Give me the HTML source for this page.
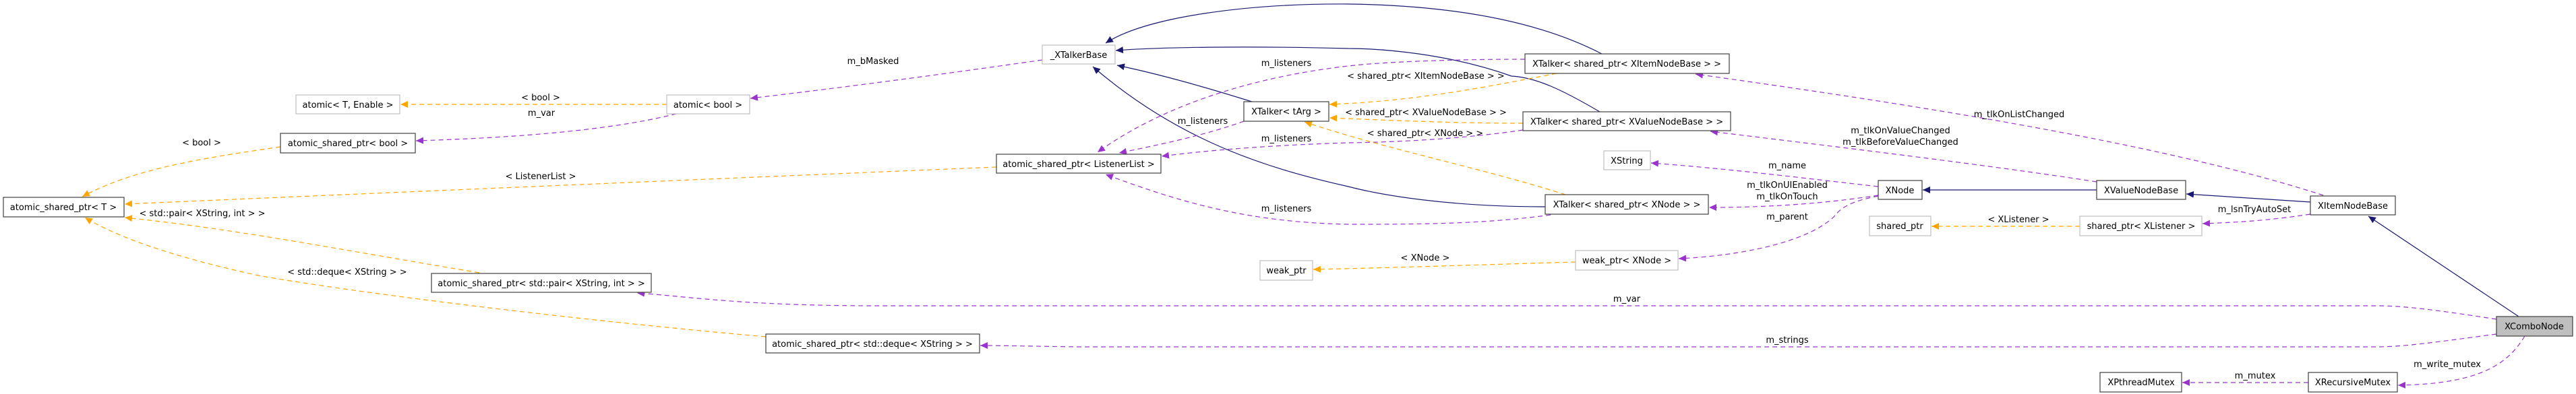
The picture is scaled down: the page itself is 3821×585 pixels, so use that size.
<!DOCTYPE html>
<html><head><meta charset="utf-8"><style>
html,body{margin:0;padding:0;background:#fff;}
svg{display:block;}
text{font-family:"DejaVu Sans","Liberation Sans",sans-serif;font-size:13px;fill:#000;text-anchor:middle;}
.b{fill:#fff;stroke:#404040;stroke-width:1.2;}
.g{fill:#fff;stroke:#bfbfbf;stroke-width:1.2;}
.n{fill:none;stroke:#191970;stroke-width:1.2;}
.p{fill:none;stroke:#9a32cd;stroke-width:1.2;stroke-dasharray:7,5;}
.o{fill:none;stroke:#ffa500;stroke-width:1.2;stroke-dasharray:7,5;}
</style></head><body>
<svg width="3821" height="585" viewBox="0 0 3821 585" xmlns="http://www.w3.org/2000/svg">
<defs>
<marker id="an" markerUnits="userSpaceOnUse" markerWidth="12" markerHeight="10" refX="11" refY="5" orient="auto"><path d="M0,0 L11,5 L0,10 z" fill="#191970"/></marker>
<marker id="ap" markerUnits="userSpaceOnUse" markerWidth="12" markerHeight="10" refX="11" refY="5" orient="auto"><path d="M0,0 L11,5 L0,10 z" fill="#9a32cd"/></marker>
<marker id="ao" markerUnits="userSpaceOnUse" markerWidth="12" markerHeight="10" refX="11" refY="5" orient="auto"><path d="M0,0 L11,5 L0,10 z" fill="#ffa500"/></marker>
</defs>

<!-- edges -->
<path class="o" marker-end="url(#ao)" d="M989,155 L594,155"/>
<path class="p" marker-end="url(#ap)" d="M1003,169 C900,195 750,205 617,209"/>
<path class="o" marker-end="url(#ao)" d="M416,218 C300,235 200,250 122,292"/>
<path class="p" marker-end="url(#ap)" d="M1546,89 C1400,110 1250,130 1113,146"/>
<path class="o" marker-end="url(#ao)" d="M1478,248 C1000,268 600,285 185,303"/>
<path class="o" marker-end="url(#ao)" d="M711,405 C500,370 350,340 185,323"/>
<path class="o" marker-end="url(#ao)" d="M1136,500 C800,470 500,430 383,409 C250,380 170,350 126,323"/>
<path class="n" marker-end="url(#an)" d="M2376,80 C2280,30 2150,8 2000,6 C1850,5 1700,25 1640,64"/>
<path class="n" marker-end="url(#an)" d="M2373,166 C2320,135 2280,115 2242,113 C2150,80 2050,72 2000,72 C1850,68 1720,70 1655,75"/>
<path class="n" marker-end="url(#an)" d="M1857,151 C1790,130 1720,110 1657,97"/>
<path class="n" marker-end="url(#an)" d="M2292,307 C2150,307 2050,290 2000,277 C1880,250 1750,210 1621,99"/>
<path class="p" marker-end="url(#ap)" d="M2262,88 C2150,88 2050,92 2000,98 C1850,115 1720,160 1628,226"/>
<path class="p" marker-end="url(#ap)" d="M1845,180 C1790,200 1720,215 1660,227"/>
<path class="p" marker-end="url(#ap)" d="M2259,193 C2180,205 2080,211 2000,212 C1900,215 1800,222 1723,232"/>
<path class="p" marker-end="url(#ap)" d="M2300,319 C2200,333 2100,333 2000,333 C1850,330 1750,300 1640,259"/>
<path class="o" marker-end="url(#ao)" d="M2309,109 C2200,130 2100,150 1972,155"/>
<path class="o" marker-end="url(#ao)" d="M2259,183 C2150,183 2050,178 1972,175"/>
<path class="o" marker-end="url(#ao)" d="M2322,289 C2200,250 2050,220 1935,181"/>
<path class="p" marker-end="url(#ap)" d="M2786,277 C2680,265 2560,250 2449,242"/>
<path class="p" marker-end="url(#ap)" d="M2786,290 C2720,300 2640,308 2535,308"/>
<path class="p" marker-end="url(#ap)" d="M2786,291 C2740,300 2730,310 2720,322 C2680,360 2580,380 2490,384"/>
<path class="o" marker-end="url(#ao)" d="M2337,389 C2200,393 2050,398 1948,400"/>
<path class="n" marker-end="url(#an)" d="M3110,282 L2852,282"/>
<path class="p" marker-end="url(#ap)" d="M3110,270 C2950,245 2700,215 2537,195"/>
<path class="p" marker-end="url(#ap)" d="M3446,290 C3200,210 2800,150 2515,110"/>
<path class="n" marker-end="url(#an)" d="M3427,300 L3243,288"/>
<path class="p" marker-end="url(#ap)" d="M3427,318 C3360,328 3320,330 3267,332"/>
<path class="o" marker-end="url(#ao)" d="M3085,336 L2865,336"/>
<path class="n" marker-end="url(#an)" d="M3736,470 L3513,321"/>
<path class="p" marker-end="url(#ap)" d="M3703,474 C3600,458 3560,454 3525,454 L1300,454 C1100,454 1020,440 945,435"/>
<path class="p" marker-end="url(#ap)" d="M3703,496 C3600,510 3560,515 3525,515 L1600,515 C1520,514 1490,513 1454,513"/>
<path class="p" marker-end="url(#ap)" d="M3745,499 C3720,540 3680,570 3557,572"/>
<path class="p" marker-end="url(#ap)" d="M3424,568 L3237,568"/>

<!-- nodes -->
<rect class="g" x="439" y="141" width="154" height="28"/><text x="516" y="160">atomic&lt; T, Enable &gt;</text>
<rect class="b" x="416" y="198" width="200" height="29"/><text x="516" y="217">atomic_shared_ptr&lt; bool &gt;</text>
<rect class="b" x="5" y="293" width="179" height="29"/><text x="94" y="312">atomic_shared_ptr&lt; T &gt;</text>
<rect class="b" x="640" y="406" width="326" height="28"/><text x="803" y="425">atomic_shared_ptr&lt; std::pair&lt; XString, int &gt; &gt;</text>
<rect class="g" x="989" y="141" width="123" height="28"/><text x="1050" y="160">atomic&lt; bool &gt;</text>
<rect class="g" x="1546" y="67" width="108" height="28"/><text x="1600" y="86">_XTalkerBase</text>
<rect class="b" x="1845" y="151" width="126" height="29"/><text x="1908" y="170">XTalker&lt; tArg &gt;</text>
<rect class="b" x="1478" y="229" width="244" height="28"/><text x="1600" y="248">atomic_shared_ptr&lt; ListenerList &gt;</text>
<rect class="g" x="1869" y="387" width="78" height="29"/><text x="1908" y="406">weak_ptr</text>
<rect class="b" x="1136" y="496" width="317" height="28"/><text x="1294" y="515">atomic_shared_ptr&lt; std::deque&lt; XString &gt; &gt;</text>
<rect class="b" x="2262" y="80" width="303" height="29"/><text x="2413" y="99">XTalker&lt; shared_ptr&lt; XItemNodeBase &gt; &gt;</text>
<rect class="b" x="2259" y="166" width="308" height="28"/><text x="2413" y="185">XTalker&lt; shared_ptr&lt; XValueNodeBase &gt; &gt;</text>
<rect class="g" x="2379" y="224" width="69" height="28"/><text x="2413" y="243">XString</text>
<rect class="b" x="2292" y="289" width="242" height="29"/><text x="2413" y="308">XTalker&lt; shared_ptr&lt; XNode &gt; &gt;</text>
<rect class="b" x="2786" y="268" width="65" height="28"/><text x="2818" y="287">XNode</text>
<rect class="g" x="2773" y="321" width="91" height="29"/><text x="2818" y="340">shared_ptr</text>
<rect class="g" x="2337" y="372" width="152" height="29"/><text x="2413" y="391">weak_ptr&lt; XNode &gt;</text>
<rect class="b" x="3110" y="268" width="132" height="28"/><text x="3176" y="287">XValueNodeBase</text>
<rect class="b" x="3427" y="291" width="126" height="28"/><text x="3490" y="310">XItemNodeBase</text>
<rect class="g" x="3085" y="321" width="181" height="29"/><text x="3176" y="340">shared_ptr&lt; XListener &gt;</text>
<rect x="3703" y="470" width="113" height="29" fill="#bfbfbf" stroke="#404040" stroke-width="1.2"/><text x="3759" y="489">XComboNode</text>
<rect class="b" x="3115" y="553" width="121" height="29"/><text x="3176" y="572">XPthreadMutex</text>
<rect class="b" x="3424" y="553" width="132" height="29"/><text x="3490" y="572">XRecursiveMutex</text>

<!-- edge labels -->
<text x="802" y="149">&lt; bool &gt;</text>
<text x="803" y="172">m_var</text>
<text x="299" y="216">&lt; bool &gt;</text>
<text x="802" y="266">&lt; ListenerList &gt;</text>
<text x="300" y="321">&lt; std::pair&lt; XString, int &gt; &gt;</text>
<text x="515" y="408">&lt; std::deque&lt; XString &gt; &gt;</text>
<text x="1295" y="95">m_bMasked</text>
<text x="1908" y="98">m_listeners</text>
<text x="1784" y="184">m_listeners</text>
<text x="1908" y="210">m_listeners</text>
<text x="1908" y="314">m_listeners</text>
<text x="2115" y="117">&lt; shared_ptr&lt; XItemNodeBase &gt; &gt;</text>
<text x="2115" y="171">&lt; shared_ptr&lt; XValueNodeBase &gt; &gt;</text>
<text x="2114" y="202">&lt; shared_ptr&lt; XNode &gt; &gt;</text>
<text x="2995" y="174">m_tlkOnListChanged</text>
<text x="2819" y="198">m_tlkOnValueChanged</text>
<text x="2819" y="215">m_tlkBeforeValueChanged</text>
<text x="2651" y="250">m_name</text>
<text x="2651" y="279">m_tlkOnUIEnabled</text>
<text x="2651" y="296">m_tlkOnTouch</text>
<text x="2651" y="326">m_parent</text>
<text x="2114" y="387">&lt; XNode &gt;</text>
<text x="2994" y="330">&lt; XListener &gt;</text>
<text x="3344" y="315">m_lsnTryAutoSet</text>
<text x="2413" y="448">m_var</text>
<text x="2651" y="509">m_strings</text>
<text x="3630" y="545">m_write_mutex</text>
<text x="3345" y="562">m_mutex</text>
</svg>
</body></html>
